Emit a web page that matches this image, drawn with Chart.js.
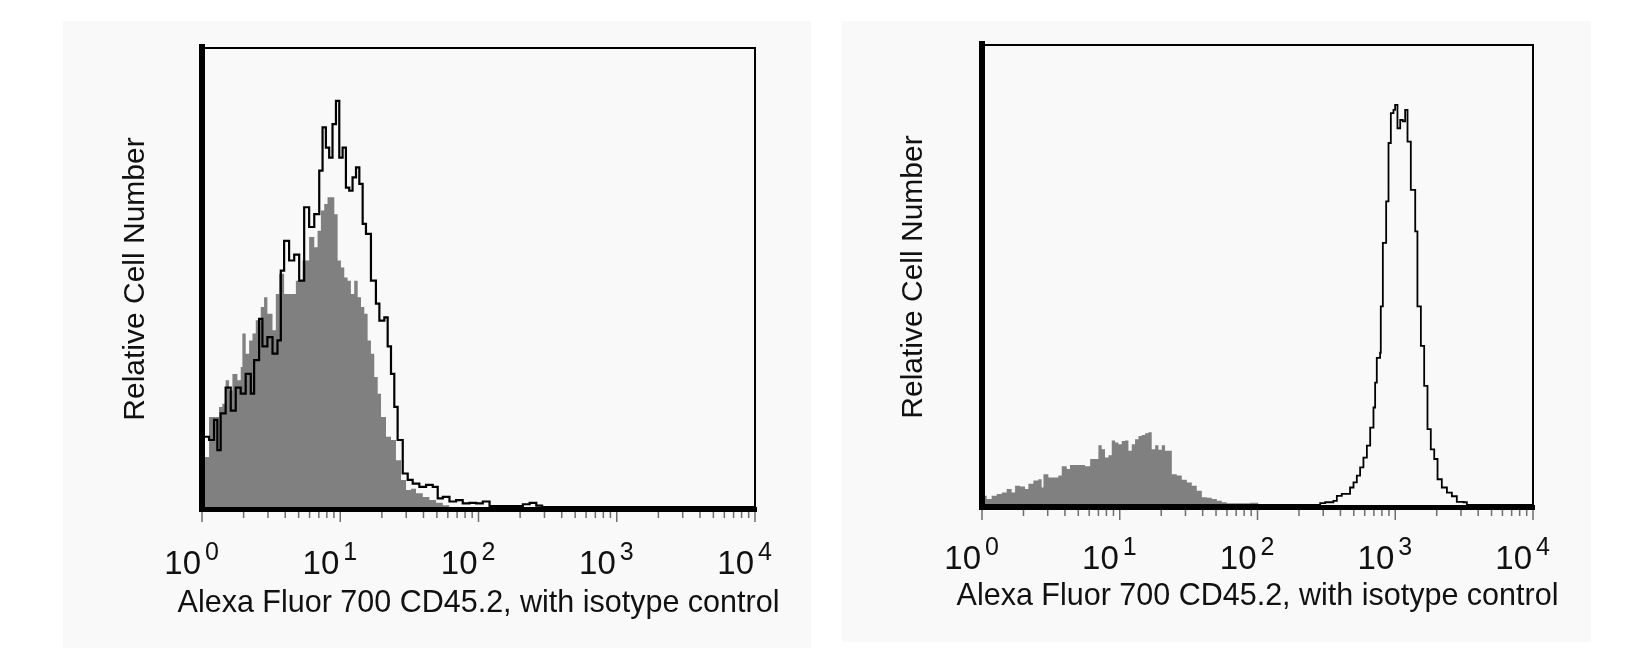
<!DOCTYPE html>
<html>
<head>
<meta charset="utf-8">
<script src="https://cdn.jsdelivr.net/npm/chart.js@4.4.1/dist/chart.umd.min.js"></script>
<style>
  html, body { margin: 0; padding: 0; background: #fff; }
  body { width: 1652px; height: 670px; position: relative; overflow: hidden; }
  .panel { position: absolute; background: #f9f9f9; }
  canvas { position: absolute; top: 0; }
</style>
</head>
<body>
<div class="panel" style="left:63px; top:21px; width:748px; height:627px;"></div>
<div class="panel" style="left:842px; top:21px; width:749px; height:621px;"></div>
<canvas id="histLeft" width="826" height="670" style="left:0px;"></canvas>
<canvas id="histRight" width="826" height="670" style="left:826px;"></canvas>
<script>
// axis text
const xTitle = "Alexa Fluor 700 CD45.2, with isotype control";
const yTitle = "Relative Cell Number";
const decadeExponents = ["0", "1", "2", "3", "4"];
const minorSteps = [2, 3, 4, 5, 6, 7, 8, 9];

// left panel: CD45.2 stained (outline) vs isotype (filled)
// x in log decades, y in % of plot height
const leftStainedDecade = [0.000, 0.015, 0.051, 0.087, 0.111, 0.135, 0.171, 0.208, 0.244, 0.280,
  0.316, 0.353, 0.377, 0.413, 0.437, 0.473, 0.510, 0.546, 0.570, 0.594, 0.630, 0.667, 0.703,
  0.739, 0.775, 0.812, 0.848, 0.872, 0.896, 0.920, 0.944, 0.969, 0.993, 1.017, 1.041, 1.065,
  1.089, 1.114, 1.138, 1.162, 1.186, 1.222, 1.258, 1.283, 1.319, 1.343, 1.367, 1.391, 1.415,
  1.452, 1.488, 1.524, 1.572, 1.621, 1.669, 1.705, 1.742, 1.790, 1.838, 1.886, 1.935, 1.983,
  2.031, 2.080, 2.273, 2.321, 2.370, 2.418, 2.460, 4.000];
const leftStainedCount = [15.3, 15.3, 14.6, 19.0, 12.4, 20.4, 26.0, 21.0, 26.0, 24.7,
  29.0, 24.7, 32.0, 41.0, 35.0, 37.0, 33.4, 36.3, 51.5, 58.0, 53.7, 55.0, 49.3,
  65.3, 61.0, 63.8, 73.3, 82.7, 78.3, 76.1, 83.4, 88.5, 76.1, 78.3, 69.6, 68.9,
  71.8, 74.0, 70.4, 61.7, 59.5, 49.3, 44.3, 40.6, 41.3, 35.0, 29.0, 21.8, 14.6,
  7.3, 5.9, 5.1, 4.4, 4.8, 4.4, 1.9, 2.2, 1.2, 1.5, 0.8, 0.9, 0.8,
  1.2, 0.2, 0.2, 0.6, 0.9, 0.3, 0, 0];

const leftIsotypeDecade = [0.000, 0.051, 0.087, 0.123, 0.147, 0.171, 0.196, 0.220, 0.256, 0.280,
  0.292, 0.316, 0.341, 0.365, 0.389, 0.425, 0.449, 0.473, 0.510, 0.534, 0.558, 0.594, 0.630,
  0.679, 0.727, 0.775, 0.812, 0.836, 0.860, 0.884, 0.908, 0.932, 0.957, 0.981, 1.005, 1.029,
  1.053, 1.077, 1.101, 1.126, 1.150, 1.174, 1.198, 1.222, 1.246, 1.271, 1.295, 1.331, 1.367,
  1.403, 1.440, 1.476, 1.512, 1.548, 1.597, 1.645, 1.693, 1.742, 1.790];
const leftIsotypeCount = [10.9, 19.6, 19.6, 21.8, 22.5, 27.6, 25.4, 29.0, 27.6, 30.5,
  37.8, 33.4, 36.3, 37.8, 40.7, 43.6, 45.7, 42.1, 38.5, 46.4, 50.8, 46.4, 46.4,
  49.3, 53.7, 58.8, 56.6, 60.2, 64.6, 66.0, 67.5, 67.5, 63.8, 53.7, 52.2, 50.0,
  49.3, 46.4, 49.3, 45.7, 43.6, 42.1, 36.3, 33.4, 28.3, 24.7, 19.6, 15.3, 14.6,
  10.2, 5.9, 3.7, 4.0, 3.0, 2.2, 1.5, 0.9, 0.4, 0];

// right panel
const rightStainedDecade = [0.000, 2.420, 2.455, 2.491, 2.551, 2.576, 2.612, 2.648, 2.672, 2.697,
  2.721, 2.745, 2.769, 2.794, 2.818, 2.842, 2.854, 2.866, 2.890, 2.895, 2.910, 2.934, 2.951,
  2.968, 2.987, 2.999, 3.016, 3.036, 3.055, 3.072, 3.089, 3.113, 3.145, 3.161, 3.186, 3.210,
  3.234, 3.258, 3.283, 3.307, 3.338, 3.375, 3.411, 3.447, 3.496, 3.520, 4.000];
const rightStainedCount = [0, 0, 0.4, 0.6, 0.9, 2.0, 2.4, 2.4, 3.8, 4.9,
  6.4, 8.2, 10.3, 12.9, 16.8, 21.2, 26.6, 32.0, 33.1, 43.2, 57.0, 66.0, 78.7,
  85.2, 85.9, 87.0, 81.9, 83.7, 83.4, 85.9, 79.0, 68.5, 59.5, 43.2, 34.6, 25.9,
  16.5, 12.1, 10.0, 5.6, 3.8, 2.7, 1.9, 0.7, 0.6, 0, 0];

const rightIsotypeDecade = [0.000, 0.034, 0.070, 0.107, 0.143, 0.179, 0.215, 0.240, 0.276, 0.312,
  0.337, 0.373, 0.409, 0.433, 0.446, 0.482, 0.518, 0.554, 0.579, 0.615, 0.639, 0.676, 0.712,
  0.748, 0.785, 0.821, 0.845, 0.869, 0.893, 0.918, 0.942, 0.966, 0.990, 1.015, 1.039, 1.063,
  1.087, 1.111, 1.136, 1.160, 1.184, 1.208, 1.232, 1.257, 1.281, 1.305, 1.329, 1.354, 1.378,
  1.414, 1.450, 1.487, 1.523, 1.559, 1.596, 1.632, 1.668, 1.705, 1.741, 1.777, 1.898, 1.947, 2.007];
const rightIsotypeCount = [2.0, 1.3, 2.0, 2.4, 2.7, 3.5, 2.7, 4.2, 4.0, 3.5,
  4.6, 5.3, 5.6, 3.8, 6.7, 6.0, 6.0, 6.4, 8.4, 7.8, 8.7, 8.7, 8.7,
  8.4, 10.0, 10.0, 13.0, 12.1, 10.3, 10.8, 14.0, 13.6, 13.2, 13.9, 14.0, 11.8,
  13.2, 14.3, 15.0, 15.2, 15.6, 15.8, 12.1, 13.0, 12.0, 13.0, 11.8, 11.8, 6.7,
  6.4, 5.5, 4.9, 4.2, 3.1, 1.7, 1.6, 1.3, 0.9, 0.6, 0.4, 0.4, 0.5, 0];

const FONT = '"Liberation Sans", Arial, sans-serif';

function toPoints(decades, counts) {
  return decades.map((d, i) => ({ x: Math.pow(10, d), y: counts[i] }));
}

// frame, log ticks and labels drawn from the x scale
const flowFrame = {
  id: 'flowFrame',
  afterDatasetsDraw(chart, args, o) {
    const ctx = chart.ctx;
    const a = chart.chartArea;
    const x = chart.scales.x;
    ctx.save();
    ctx.fillStyle = '#000';
    ctx.fillRect(a.left, a.top - 1, a.right - a.left + 1, 2);
    ctx.fillRect(a.right - 1, a.top - 1, 2, a.bottom - a.top + 5);
    ctx.fillRect(a.left - 3, a.top - 4, 6, a.bottom - a.top + 9);
    ctx.fillRect(a.left - 3, a.bottom, a.right - a.left + 5, 5);

    ctx.fillStyle = '#6e6e6e';
    decadeExponents.forEach((e, i) => {
      const base = Math.pow(10, Number(e));
      const px = x.getPixelForValue(base);
      ctx.fillRect(px - 0.75, a.bottom + 5, 1.5, 10);
      if (i < decadeExponents.length - 1) {
        minorSteps.forEach(m => {
          const mx = x.getPixelForValue(m * base);
          ctx.fillRect(mx - 0.75, a.bottom + 5, 1.5, 6);
        });
      }
    });

    ctx.fillStyle = '#111';
    ctx.textBaseline = 'alphabetic';
    decadeExponents.forEach(e => {
      const px = x.getPixelForValue(Math.pow(10, Number(e)));
      ctx.font = '33px ' + FONT;
      ctx.textAlign = 'right';
      ctx.fillText('10', px - 1, o.labelBase);
      ctx.font = '25px ' + FONT;
      ctx.textAlign = 'left';
      ctx.fillText(e, px + 3, o.labelBase - 14);
    });

    ctx.font = '30.5px ' + FONT;
    ctx.textAlign = 'center';
    ctx.fillText(xTitle, (a.left + a.right) / 2, o.titleBase);

    ctx.translate(o.yTitleX, o.yTitleY);
    ctx.rotate(-Math.PI / 2);
    ctx.font = '30px ' + FONT;
    ctx.textBaseline = 'middle';
    ctx.fillText(yTitle, 0, 0);
    ctx.restore();
  }
};

function makeHistogram(id, stained, isotype, padding, lineWidth, frameOpts) {
  return new Chart(document.getElementById(id), {
    type: 'line',
    data: {
      datasets: [
        {
          label: 'CD45.2',
          data: stained,
          stepped: true,
          borderColor: '#000',
          borderWidth: lineWidth,
          pointRadius: 0,
          fill: false,
          order: 0
        },
        {
          label: 'Isotype control',
          data: isotype,
          stepped: true,
          borderWidth: 0,
          borderColor: 'rgba(0,0,0,0)',
          backgroundColor: '#808080',
          pointRadius: 0,
          fill: 'origin',
          order: 1
        }
      ]
    },
    options: {
      responsive: false,
      animation: false,
      devicePixelRatio: 1,
      events: [],
      layout: { padding: padding },
      scales: {
        x: { type: 'logarithmic', min: 1, max: 10000, display: false },
        y: { type: 'linear', min: 0, max: 100, display: false }
      },
      plugins: {
        legend: { display: false },
        tooltip: { enabled: false },
        flowFrame: frameOpts
      }
    },
    plugins: [flowFrame]
  });
}

makeHistogram('histLeft',
  toPoints(leftStainedDecade, leftStainedCount),
  toPoints(leftIsotypeDecade, leftIsotypeCount),
  { left: 202, right: 71, top: 48, bottom: 163 },
  2.2,
  { labelBase: 574, titleBase: 612, yTitleX: 136, yTitleY: 279 });

makeHistogram('histRight',
  toPoints(rightStainedDecade, rightStainedCount),
  toPoints(rightIsotypeDecade, rightIsotypeCount),
  { left: 156, right: 119, top: 45, bottom: 165 },
  1.8,
  { labelBase: 569, titleBase: 605, yTitleX: 88, yTitleY: 277 });
</script>
</body>
</html>
